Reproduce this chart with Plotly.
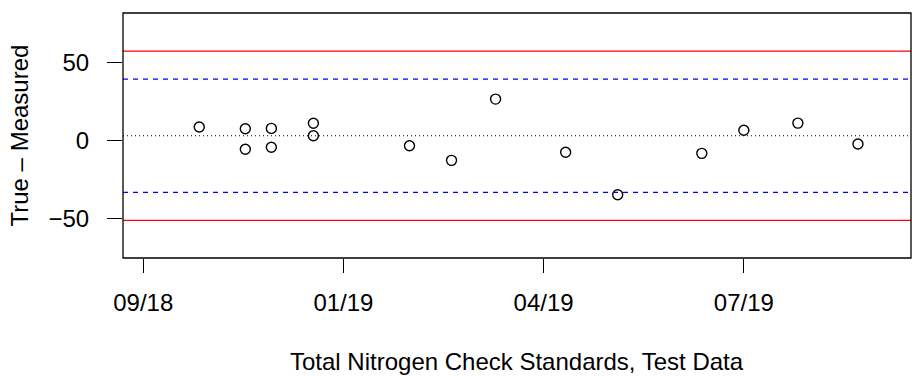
import plotly.graph_objects as go

# check standard results (True - Measured) by date
dates = ['2018-10-24', '2018-11-16', '2018-11-16', '2018-11-29', '2018-11-29',
         '2018-12-20', '2018-12-20', '2019-02-06', '2019-02-27', '2019-03-21',
         '2019-04-25', '2019-05-21', '2019-07-02', '2019-07-23', '2019-08-19',
         '2019-09-18']
diffs = [8.8, 7.7, -5.5, 7.9, -4.2, 11.2, 3.2, -3.2, -12.6, 26.7,
         -7.4, -34.6, -8.1, 6.7, 11.3, -2.1]

# control chart limits
center = 3.2
warn_limits = [39.5, -33.1]
ctrl_limits = [57.5, -51.1]

tick_dates = ['2018-09-26', '2019-01-04', '2019-04-14', '2019-07-23']
tick_labels = ['09/18', '01/19', '04/19', '07/19']

font = 'Liberation Sans, Arial, sans-serif'
W, H = 912, 376
L, R, T, B = 123, 1, 13, 118

fig = go.Figure()

fig.add_trace(go.Scatter(
    x=dates, y=diffs, mode='markers',
    marker=dict(symbol='circle-open', size=10, color='black', line=dict(width=1.4, color='black')),
    showlegend=False,
))

for v in ctrl_limits:
    fig.add_shape(type='line', xref='paper', x0=0, x1=1, yref='y', y0=v, y1=v,
                  line=dict(color='#FF0000', width=1.3))
for v in warn_limits:
    fig.add_shape(type='line', xref='paper', x0=0, x1=1, yref='y', y0=v, y1=v,
                  line=dict(color='#0000FF', width=1.3, dash='5px,5px'))
fig.add_shape(type='line', xref='paper', x0=0, x1=1, yref='y', y0=center, y1=center,
              line=dict(color='black', width=1.1, dash='1px,3px'))

# box around plot region
fig.add_shape(type='rect', xref='paper', yref='paper', x0=0, x1=1, y0=0, y1=1,
              line=dict(color='black', width=1.3))

fig.update_layout(
    width=W, height=H,
    margin=dict(l=L, r=R, t=T, b=B),
    paper_bgcolor='white', plot_bgcolor='white',
    font=dict(family=font, size=24, color='black'),
    xaxis=dict(
        type='date',
        range=['2018-09-15 21:40', '2019-10-14 12:00'],
        tickvals=tick_dates, ticktext=tick_labels,
        ticks='outside', ticklen=14, tickwidth=1, tickcolor='black',
        showgrid=False, zeroline=False, showline=False,
        ticklabelstandoff=9,
    ),
    yaxis=dict(
        range=[-75.2, 81.9],
        tickvals=[-50, 0, 50], ticktext=['\u221250', '0', '50'],
        ticks='outside', ticklen=15, tickwidth=1, tickcolor='black',
        showgrid=False, zeroline=False, showline=False,
        ticklabelstandoff=13,
    ),
    annotations=[
        dict(text='Total Nitrogen Check Standards, Test Data', xref='paper', yref='paper',
             x=0.5, y=-(361 - (H - B)) / (H - B - T),
             xanchor='center', yanchor='middle', showarrow=False, font=dict(size=24)),
        dict(text='True \u2013 Measured', xref='paper', yref='paper',
             x=-(L - 19) / (W - L - R), y=0.5, textangle=-90,
             xanchor='center', yanchor='middle', showarrow=False, font=dict(size=24)),
    ],
)

fig.write_html('out.html', config={'displayModeBar': False},
               post_script="document.body.style.margin='0';")
